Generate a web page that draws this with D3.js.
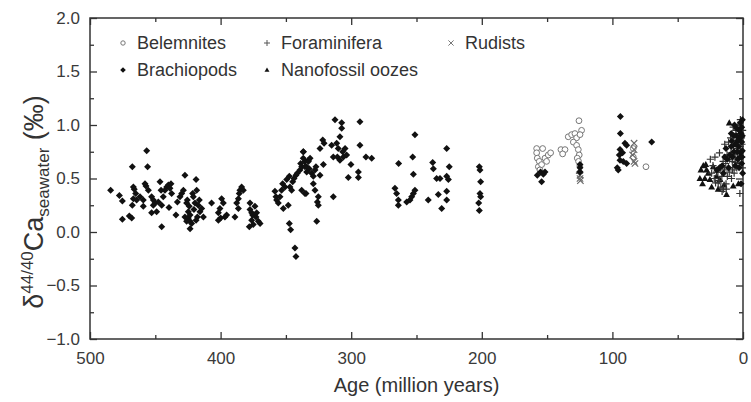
<!DOCTYPE html>
<html><head><meta charset="utf-8">
<script src="https://cdn.jsdelivr.net/npm/d3@7"></script>
<style>body{margin:0;background:#fff}svg{display:block}text{font-family:"Liberation Sans",Arial,sans-serif}</style>
</head><body><svg id="c" width="751" height="402"></svg>
<script>
// ---- data: [age (Ma), δ44/40Ca (‰)] ----
const brachiopods = [
[484.2,0.39],[477.5,0.34],[475.2,0.29],[475.2,0.12],[469.9,0.15],[468.1,0.13],[467.6,0.61],[466.8,0.42],[466.1,0.40],[465.0,0.36],
[466.8,0.31],[467.6,0.25],[464.3,0.30],[461.7,0.33],[459.2,0.30],[459.2,0.24],[457.9,0.45],[457.1,0.43],[456.6,0.76],[455.9,0.61],
[455.3,0.39],[452.8,0.33],[451.5,0.30],[452.8,0.18],[451.5,0.25],[450.2,0.27],[449.0,0.19],[447.7,0.28],[446.4,0.47],[445.6,0.39],
[445.1,0.25],[445.1,0.05],[443.9,0.33],[442.6,0.39],[441.3,0.42],[440.0,0.44],[438.8,0.41],[439.5,0.23],[438.0,0.45],[437.5,0.36],
[434.2,0.16],[433.1,0.28],[431.1,0.33],[429.8,0.36],[428.5,0.39],[427.3,0.53],[427.3,0.14],[426.0,0.27],[425.5,0.30],[424.7,0.13],
[424.0,0.24],[423.4,0.10],[423.4,0.03],[422.2,0.08],[421.4,0.36],[420.9,0.33],[420.4,0.21],[419.6,0.27],[418.8,0.49],[418.3,0.39],
[417.8,0.14],[417.1,0.25],[416.3,0.30],[415.8,0.19],[414.5,0.22],[413.2,0.14],[418.8,0.11],[423.4,0.16],[424.7,0.19],[426.0,0.10],
[406.9,0.27],[401.7,0.11],[401.7,0.18],[400.5,0.22],[399.2,0.31],[397.9,0.27],[396.7,0.14],[395.4,0.16],[400.0,0.13],
[389.0,0.14],[387.7,0.27],[386.4,0.31],[385.7,0.36],[385.2,0.39],[383.9,0.42],[382.6,0.39],[386.4,0.22],[377.5,0.27],[377.5,0.21],
[376.2,0.18],[376.2,0.11],[375.0,0.07],[373.7,0.24],[372.9,0.14],[372.4,0.18],[371.1,0.10],[369.8,0.08],[378.0,0.05],[375.5,0.16],
[358.4,0.38],[357.6,0.33],[357.1,0.30],[355.8,0.27],[354.5,0.33],[353.3,0.39],[352.5,0.45],[352.0,0.22],[350.7,0.42],[349.4,0.49],
[348.2,0.25],[347.4,0.52],[346.9,0.42],[345.6,0.39],[344.8,0.47],[343.8,0.50],[342.3,0.53],[341.3,0.55],[339.2,0.58],[338.7,0.64],
[337.9,0.39],[336.7,0.75],[336.7,0.69],[335.4,0.66],[334.6,0.36],[334.1,0.61],[332.8,0.67],[347.4,0.08],[346.4,0.02],[343.1,-0.15],[342.3,-0.23],
[336.6,0.75],[337.9,0.61],[335.4,0.61],[334.1,0.56],[332.8,0.66],[332.1,0.59],[331.5,0.69],[330.3,0.55],[329.0,0.52],[329.0,0.45],
[327.7,0.58],[327.7,0.39],[327.0,0.61],[325.2,0.33],[325.9,0.28],[325.2,0.25],[323.9,0.53],[326.4,0.10],[335.4,0.36],[321.3,0.63],
[321.8,0.86],[320.8,0.83],[323.9,0.78],[315.0,0.81],[313.7,0.70],[312.4,1.05],[311.1,0.83],[309.9,0.78],[310.6,0.70],[308.6,0.67],
[307.3,1.02],[307.3,0.97],[306.5,0.75],[306.0,0.70],[308.6,0.89],[304.7,0.78],[303.5,0.72],[300.2,0.63],[313.7,0.33],[302.2,0.51],
[294.5,0.56],[294.5,0.51],[293.3,1.03],[293.3,0.81],[288.7,0.70],[284.3,0.69],
[266.5,0.41],[265.2,0.36],[263.9,0.30],[263.9,0.25],[263.7,0.64],[257.5,0.28],[255.0,0.30],[253.7,0.33],[252.4,0.36],[251.2,0.39],
[252.9,0.70],[252.4,0.54],[251.2,0.91],[241.0,0.30],[237.6,0.65],[237.1,0.59],[234.6,0.50],[232.0,0.50],[233.3,0.35],[230.7,0.22],
[226.9,0.78],[226.9,0.52],[226.9,0.38],[226.9,0.30],[225.6,0.49],[224.9,0.61],
[201.9,0.61],[201.4,0.58],[200.9,0.47],[201.4,0.36],[200.9,0.33],[202.4,0.27],[201.9,0.20],
[155.0,0.56],[151.6,0.56],[154.2,0.47],[157.5,0.53],[152.9,0.54],
[124.8,0.63],[124.8,0.60],[124.8,0.56],
[93.9,1.08],[93.9,0.92],[90.4,0.83],[94.2,0.77],[94.7,0.72],[94.2,0.67],[91.7,0.66],[89.1,0.64],[95.5,0.58],[96.3,0.60],[92.2,0.74],[89.1,0.81],
[69.9,0.84],
[0.5,1.05],[1,0.98],[2,1.02],[1.5,0.92],[3,0.95],[2.5,0.88],[4,0.85],[1,0.84],[5,0.9],[3.5,0.80],[6,0.82],[0.5,0.76],[2,0.74],[7,0.75],
[8,0.7],[4,0.68],[1,0.64],[9,0.8],[10,0.72],[12,0.68],[6,0.62],[3,0.6],[14,0.7],[11,0.6],[16,0.62],[18,0.6],[0.5,0.9],[5,0.97],[7,0.9],
[9,0.92],[2,0.7],[13,0.78],[15,0.55],[20,0.58],[0.3,0.55],[1.5,0.45],[0.8,0.7],[4.5,0.75],[8.5,0.85],[6.5,1.0]
];
const belemnites = [
[158.0,0.78],[153.4,0.78],[158.0,0.74],[157.5,0.69],[156.0,0.66],[156.7,0.61],[154.2,0.63],[151.6,0.69],[149.1,0.72],[147.3,0.74],
[150.4,0.66],[155.5,0.58],[139.4,0.77],[136.3,0.77],[138.1,0.73],[133.8,0.89],[131.2,0.91],[128.7,0.92],[125.6,1.04],[123.6,0.95],
[127.4,0.88],[129.9,0.84],[127.4,0.81],[126.1,0.77],[125.4,0.72],[126.9,0.69],[124.8,0.91],[125.9,0.66],
[84.0,0.78],[84.0,0.70],[74.3,0.61]
];
const foraminifera = [
[0.3,0.95],[1.2,0.88],[2.2,0.8],[3.2,0.92],[4.2,0.78],[5.2,0.86],[6.2,0.72],[7.2,0.8],[8.2,0.66],[9.2,0.74],[10.2,0.68],[11.2,0.6],
[12.2,0.72],[13.2,0.64],[14.2,0.58],[15.2,0.66],[16.2,0.52],[17.2,0.6],[18.2,0.48],[19.2,0.56],[20.2,0.56],[21,0.46],[22,0.5],
[23,0.62],[24,0.55],[2.4,0.36],[19,0.46],[17,0.42],[15,0.40],[16,0.38],[13,0.45],[12,0.52],[10.5,0.56],[8,0.58],[6,0.65],[4,0.7],
[3,0.64],[1.5,0.75],[0.8,0.82],[5.5,0.95],[7.5,0.98],[9.5,0.88],[11,0.84],[3.8,1.0],[2,1.05],[1,0.7],[0.5,0.6],[6.8,0.55],[14,0.82],
[18,0.74],[25,0.68],[21.5,0.7],[8.8,0.5],[12.8,0.4],[4.8,0.6],[125.2,0.55]
];
const rudists = [
[124.8,0.53],[124.8,0.50],[124.5,0.48],[125.0,0.59],[83.4,0.83],[83.4,0.77],[84.5,0.72],[83.4,0.66],[82.7,0.64]
];
const nanofossil = [
[10.5,1.02],[30.4,0.62],[32.2,0.58],[27.9,0.58],[33.0,0.50],[29.2,0.50],[26.6,0.55],[25.3,0.49],[12.6,0.35],[7.5,0.43],
[20.2,0.52],[22.8,0.61],[17.7,0.49],[24,0.42],[31,0.45],[19,0.4],[14.5,0.44],[3.5,0.45],[28.5,0.63]
];
const legendItems = [
  {name:"Belemnites", key:"circle"},{name:"Foraminifera", key:"plus"},{name:"Rudists", key:"cross"},
  {name:"Brachiopods", key:"diamond"},{name:"Nanofossil oozes", key:"triangle"}
];
const xMajor = [500,400,300,200,100,0];
const yMajor = [-1,-0.5,0,0.5,1,1.5,2];

// ---- chart ----
const svg = d3.select("#c");
const L=90,R=743,T=18,B=339;
const x = d3.scaleLinear().domain([500,0]).range([L,R]);
const y = d3.scaleLinear().domain([-1,2]).range([B,T]);
const xMinor = d3.range(450,0,-100);
const yMinor = d3.range(-0.75,2,0.5);
const axColor = "#333";

function styleAxis(g){
  g.select(".domain").remove();
  g.selectAll("line").attr("stroke",axColor).attr("stroke-width",1.3);
  g.selectAll("text").attr("fill","#3a3a3a").style("font-size","17px");
}
svg.append("g").attr("transform",`translate(0,${B})`)
  .call(d3.axisBottom(x).tickValues(xMajor).tickSize(-7).tickPadding(13).tickFormat(d3.format("d"))).call(styleAxis);
svg.append("g").attr("transform",`translate(0,${B})`)
  .call(d3.axisBottom(x).tickValues(xMinor).tickSize(-4).tickFormat("")).call(styleAxis);
svg.append("g").attr("transform",`translate(0,${T})`)
  .call(d3.axisTop(x).tickValues(xMajor).tickSize(-7).tickFormat("")).call(styleAxis);
svg.append("g").attr("transform",`translate(0,${T})`)
  .call(d3.axisTop(x).tickValues(xMinor).tickSize(-4).tickFormat("")).call(styleAxis);
svg.append("g").attr("transform",`translate(${L},0)`)
  .call(d3.axisLeft(y).tickValues(yMajor).tickSize(-7).tickPadding(10).tickFormat(d3.format(".1f"))).call(styleAxis);
svg.append("g").attr("transform",`translate(${L},0)`)
  .call(d3.axisLeft(y).tickValues(yMinor).tickSize(-4).tickFormat("")).call(styleAxis);
svg.append("g").attr("transform",`translate(${R},0)`)
  .call(d3.axisRight(y).tickValues(yMajor).tickSize(-7).tickFormat("")).call(styleAxis);
svg.append("g").attr("transform",`translate(${R},0)`)
  .call(d3.axisRight(y).tickValues(yMinor).tickSize(-4).tickFormat("")).call(styleAxis);
svg.append("rect").attr("x",L).attr("y",T).attr("width",R-L).attr("height",B-T)
  .attr("fill","none").attr("stroke",axColor).attr("stroke-width",1.5);

const sym = {
  diamond:(s)=>`M0,${-s}L${s},0L0,${s}L${-s},0Z`,
  triangle:(s)=>`M0,${-s}L${s*0.95},${s*0.7}L${-s*0.95},${s*0.7}Z`,
  plus:(s)=>`M${-s},0H${s}M0,${-s}V${s}`,
  cross:(s)=>`M${-s},${-s}L${s},${s}M${-s},${s}L${s},${-s}`
};
const plot = svg.append("g");
function drawPath(data, key, size, fill, stroke, sw){
  plot.append("g").selectAll("path").data(data).join("path")
    .attr("transform",d=>`translate(${x(d[0])},${y(d[1])})`)
    .attr("d",sym[key](size)).attr("fill",fill).attr("stroke",stroke).attr("stroke-width",sw);
}
drawPath(nanofossil,"triangle",3.6,"#111","none",0);
drawPath(foraminifera,"plus",3.6,"none","#333",1.2);
plot.append("g").selectAll("circle").data(belemnites).join("circle")
  .attr("cx",d=>x(d[0])).attr("cy",d=>y(d[1])).attr("r",2.9)
  .attr("fill","#fff").attr("stroke","#777").attr("stroke-width",1);
drawPath(rudists,"cross",3.2,"none","#666",1.1);
drawPath(brachiopods,"diamond",3.5,"#111","none",0);

// legend
const lx=[123,267,451], ly=[43,70];
const lg = svg.append("g");
legendItems.forEach((it,i)=>{
  const cx = i<3 ? lx[i] : lx[i-3], cy = i<3 ? ly[0] : ly[1];
  if(it.key==="circle") lg.append("circle").attr("cx",cx).attr("cy",cy).attr("r",2.2).attr("fill","#fff").attr("stroke","#777").attr("stroke-width",1);
  else if(it.key==="diamond") lg.append("path").attr("transform",`translate(${cx},${cy})`).attr("d",sym.diamond(2.8)).attr("fill","#111");
  else if(it.key==="triangle") lg.append("path").attr("transform",`translate(${cx},${cy})`).attr("d",sym.triangle(2.6)).attr("fill","#111");
  else if(it.key==="plus") lg.append("path").attr("transform",`translate(${cx},${cy})`).attr("d",sym.plus(3)).attr("stroke","#555").attr("stroke-width",1);
  else lg.append("path").attr("transform",`translate(${cx},${cy})`).attr("d",sym.cross(2.6)).attr("stroke","#777").attr("stroke-width",1);
  lg.append("text").attr("x",cx+14).attr("y",cy).attr("dy","0.36em").style("font-size","18px").attr("fill","#333").text(it.name);
});

svg.append("text").attr("x",(L+R)/2).attr("y",392).attr("text-anchor","middle")
  .style("font-size","20px").attr("fill","#333").text("Age (million years)");
const yt = svg.append("text").attr("transform","translate(43,202) rotate(-90)").attr("text-anchor","middle")
  .style("font-size","27px").attr("fill","#333");
yt.append("tspan").text("δ");
yt.append("tspan").attr("dy",-10).style("font-size","17px").text("44/40");
yt.append("tspan").attr("dy",10).text("Ca");
yt.append("tspan").attr("dy",6).style("font-size","17px").text("seawater");
yt.append("tspan").attr("dy",-6).text(" (‰)");
</script></body></html>
